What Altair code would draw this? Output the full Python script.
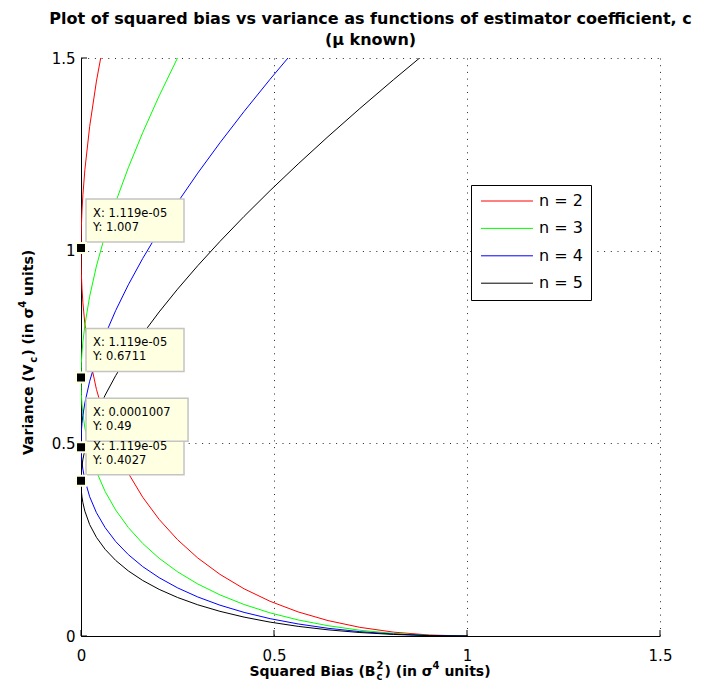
import altair as alt
import pandas as pd

# ---------------- data ----------------
# squared bias (x) of the sampled estimator coefficients, shared by all n
bias_sq = [1.0, 0.9025, 0.81, 0.7225, 0.64, 0.5625, 0.49, 0.4225, 0.36, 0.3025, 0.25, 0.2025,
           0.16, 0.1225, 0.09, 0.0625, 0.04, 0.0225, 0.01,
           0.0049, 0.0025, 0.0009, 0.0004, 0.0001, 0.000025,
           0.0,
           0.000025, 0.0001, 0.0004, 0.0009, 0.0025, 0.0049,
           0.01, 0.0225, 0.04, 0.0625, 0.09, 0.1225, 0.16, 0.2025, 0.25, 0.3025, 0.36,
           0.4225, 0.49, 0.5625, 0.64, 0.7225, 0.81, 0.9025, 1.0]
# variance (y) for each n
var_n2 = [0.0, 0.0025, 0.01, 0.0225, 0.04, 0.0625, 0.09, 0.1225, 0.16, 0.2025, 0.25, 0.3025,
          0.36, 0.4225, 0.49, 0.5625, 0.64, 0.7225, 0.81,
          0.8649, 0.9025, 0.9409, 0.9604, 0.9801, 0.99,
          1.0,
          1.01, 1.0201, 1.0404, 1.0609, 1.1025, 1.1449,
          1.21, 1.3225, 1.44, 1.5625, 1.69, 1.8225, 1.96, 2.1025, 2.25, 2.4025, 2.56,
          2.7225, 2.89, 3.0625, 3.24, 3.4225, 3.61, 3.8025, 4.0]
var_n3 = [0.0, 0.0017, 0.0067, 0.015, 0.0267, 0.0417, 0.06, 0.0817, 0.1067, 0.135, 0.1667,
          0.2017, 0.24, 0.2817, 0.3267, 0.375, 0.4267, 0.4817, 0.54,
          0.5766, 0.6017, 0.6273, 0.6403, 0.6534, 0.66,
          0.6667,
          0.6734, 0.6801, 0.6936, 0.7073, 0.735, 0.7633,
          0.8067, 0.8817, 0.96, 1.0417, 1.1267, 1.215, 1.3067, 1.4017, 1.5, 1.6017, 1.7067,
          1.815, 1.9267, 2.0417, 2.16, 2.2817, 2.4067, 2.535, 2.6667]
var_n4 = [0.0, 0.0013, 0.005, 0.0113, 0.02, 0.0313, 0.045, 0.0613, 0.08, 0.1013, 0.125,
          0.1513, 0.18, 0.2113, 0.245, 0.2813, 0.32, 0.3613, 0.405,
          0.4325, 0.4513, 0.4705, 0.4802, 0.4901, 0.495,
          0.5,
          0.505, 0.5101, 0.5202, 0.5305, 0.5513, 0.5725,
          0.605, 0.6613, 0.72, 0.7813, 0.845, 0.9113, 0.98, 1.0513, 1.125, 1.2013, 1.28,
          1.3613, 1.445, 1.5313, 1.62, 1.7113, 1.805, 1.9013, 2.0]
var_n5 = [0.0, 0.001, 0.004, 0.009, 0.016, 0.025, 0.036, 0.049, 0.064, 0.081, 0.1, 0.121,
          0.144, 0.169, 0.196, 0.225, 0.256, 0.289, 0.324,
          0.346, 0.361, 0.3764, 0.3842, 0.392, 0.396,
          0.4,
          0.404, 0.408, 0.4162, 0.4244, 0.441, 0.458,
          0.484, 0.529, 0.576, 0.625, 0.676, 0.729, 0.784, 0.841, 0.9, 0.961, 1.024,
          1.089, 1.156, 1.225, 1.296, 1.369, 1.444, 1.521, 1.6]

series_labels = ["n = 2", "n = 3", "n = 4", "n = 5"]
series_colors = ["#ff0000", "#00ff00", "#0000ff", "#000000"]
tick_values = [0, 0.5, 1, 1.5]

tip_id = [1, 2, 3, 4]
tip_x = [1.119e-05, 1.119e-05, 0.0001007, 1.119e-05]
tip_y = [1.007, 0.6711, 0.49, 0.4027]
tip_x_text = ["X: 1.119e-05", "X: 1.119e-05", "X: 0.0001007", "X: 1.119e-05"]
tip_y_text = ["Y: 1.007", "Y: 0.6711", "Y: 0.49", "Y: 0.4027"]

title_lines = ["Plot of squared bias vs variance as functions of estimator coefficient, c",
               "(\u03bc known)"]

# ---------------- tables ----------------
rows = []
for lab, vals in zip(series_labels, [var_n2, var_n3, var_n4, var_n5]):
    for i, (b, v) in enumerate(zip(bias_sq, vals)):
        rows.append({"series": lab, "idx": i, "bias": b, "variance": v})
lines_df = pd.DataFrame(rows)
ticks_df = pd.DataFrame({"t": tick_values, "zero": [0] * len(tick_values)})
tips_df = pd.DataFrame({"tip": tip_id, "tx": tip_x, "ty": tip_y,
                        "lx": tip_x_text, "ly": tip_y_text})
one_df = pd.DataFrame({"a": [0]})

FONT = "DejaVu Sans"
W, H = 579, 578

xs = alt.Scale(domain=[0, 1.5], nice=False, zero=False)
ys = alt.Scale(domain=[0, 1.5], nice=False, zero=False)
common_axis = dict(values=tick_values, format="~g", grid=True, gridColor="#000000",
                   gridDash=[1, 5.7], gridWidth=1, gridOpacity=0.85, ticks=False,
                   domain=True, domainColor="#000000", domainWidth=1, labelFlush=False,
                   labelFont=FONT, labelFontSize=15, labelColor="#000000", title=None)
xaxis = alt.Axis(labelPadding=12, **common_axis)
yaxis = alt.Axis(labelPadding=6, **common_axis)


def X(f):
    return alt.X(f, scale=xs, axis=xaxis)


def Y(f):
    return alt.Y(f, scale=ys, axis=yaxis)


legend = alt.Legend(title=None, orient="none", legendX=390, legendY=127,
                    symbolType="M-5,0H5", symbolSize=108, symbolStrokeWidth=1,
                    symbolOffset=20, labelOffset=24, labelFont=FONT, labelFontSize=16,
                    labelColor="#000000", strokeColor="#000000", fillColor="#ffffff",
                    padding=8, rowPadding=11.4, cornerRadius=0)

lines = alt.Chart(lines_df).mark_line(clip=True, strokeWidth=1).encode(
    x=X("bias:Q"), y=Y("variance:Q"),
    color=alt.Color("series:N", scale=alt.Scale(domain=series_labels, range=series_colors),
                    legend=legend),
    order="idx:Q",
)

ticks_bottom = alt.Chart(ticks_df).mark_rule(color="#000000", strokeWidth=1, y2Offset=-6).encode(
    x=X("t:Q"), y=Y("zero:Q"), y2="zero:Q")
ticks_left = alt.Chart(ticks_df).mark_rule(color="#000000", strokeWidth=1, x2Offset=6).encode(
    y=Y("t:Q"), x=X("zero:Q"), x2="zero:Q")

box_style = dict(fill="#ffffe1", stroke="#c4c4c4", strokeWidth=1.5, xOffset=5,
                 yOffset=-6, y2Offset=-49)
tip_boxes_a = alt.Chart(tips_df).transform_filter("datum.tip != 3").mark_rect(
    x2Offset=103, **box_style).encode(x=X("tx:Q"), x2="tx:Q", y=Y("ty:Q"), y2="ty:Q")
tip_boxes_b = alt.Chart(tips_df).transform_filter("datum.tip == 3").mark_rect(
    x2Offset=107, **box_style).encode(x=X("tx:Q"), x2="tx:Q", y=Y("ty:Q"), y2="ty:Q")
tip_text_x = alt.Chart(tips_df).mark_text(align="left", baseline="middle", dx=12, dy=-34,
                                          font=FONT, fontSize=11.5, color="#000000").encode(
    x=X("tx:Q"), y=Y("ty:Q"), text="lx:N")
tip_text_y = alt.Chart(tips_df).mark_text(align="left", baseline="middle", dx=12, dy=-20,
                                          font=FONT, fontSize=11.5, color="#000000").encode(
    x=X("tx:Q"), y=Y("ty:Q"), text="ly:N")
tip_marks = alt.Chart(tips_df).mark_square(size=100, fill="#000000", stroke="#ffffe1",
                                           strokeWidth=2, opacity=1).encode(
    x=X("tx:Q"), y=Y("ty:Q"))


def piece(txt, px, py, fs, angle=0):
    return alt.Chart(one_df).mark_text(
        text=txt, align="left", baseline="alphabetic", font=FONT, fontWeight="bold",
        fontSize=fs, angle=angle, color="#000000").encode(x=alt.value(px), y=alt.value(py))


# x axis title: Squared Bias (B^2_c) (in sigma^4 units)
xb = H + 40
x_title = [
    piece("Squared Bias (B", 168.5, xb, 14),
    piece("2", 295.5, xb - 7, 10),
    piece("c", 295.5, xb + 4, 10),
    piece(") (in", 303.5, xb, 14),
    piece("\u03c3", 340.8, xb, 14),
    piece("4", 351.5, xb - 7, 10),
    piece("units)", 363.4, xb, 14),
]
# y axis title: Variance (V_c) (in sigma^4 units), rotated
yb = -48
y_title = [
    piece("Variance (V", yb, 397, 14, 270),
    piece("c", yb + 4, 304.7, 10, 270),
    piece(") (in", yb, 297.8, 14, 270),
    piece("\u03c3", yb, 260.5, 14, 270),
    piece("4", yb - 7, 249.8, 10, 270),
    piece("units)", yb, 237.9, 14, 270),
]

chart = alt.layer(
    lines, ticks_bottom, ticks_left, tip_boxes_a, tip_boxes_b, tip_text_x, tip_text_y,
    tip_marks, *x_title, *y_title
).properties(
    width=W, height=H,
    title=alt.TitleParams(text=title_lines, font=FONT, fontSize=16, fontWeight="bold",
                          color="#000000", anchor="middle", offset=3, lineHeight=21),
    padding={"left": 73, "top": 50, "right": 37, "bottom": 46},
    autosize=alt.AutoSizeParams(type="none"),
).configure_view(stroke=None)

chart.save("out.html", embed_options={"renderer": "svg", "actions": False})
